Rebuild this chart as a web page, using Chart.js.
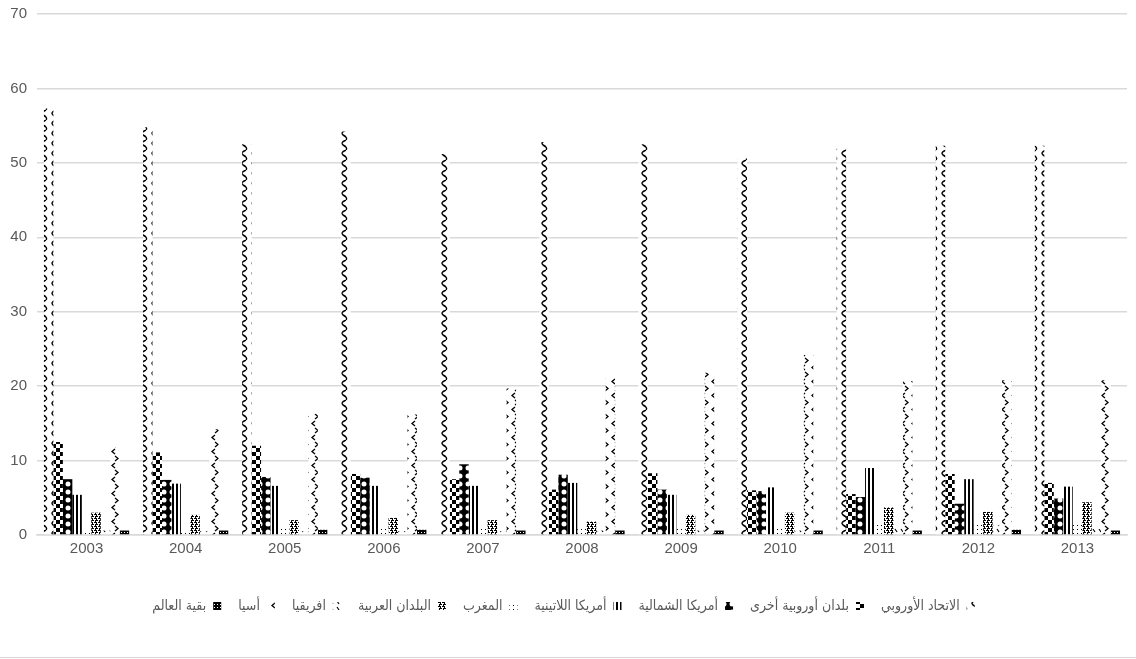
<!DOCTYPE html>
<html>
<head>
<meta charset="utf-8">
<script src="https://cdn.jsdelivr.net/npm/chart.js@4/dist/chart.umd.min.js"></script>
<style>
  html, body { margin: 0; padding: 0; background: #fff; }
  #wrap { width: 1136px; height: 659px; position: relative; }
</style>
</head>
<body>
<div id="wrap"><canvas id="regionsChart"></canvas></div>
<script>
// years on the x axis
const years = ['2003', '2004', '2005', '2006', '2007', '2008', '2009', '2010', '2011', '2012', '2013'];

// series names (legend, right to left)
const seriesNames = ['الاتحاد الأوروبي', 'بلدان أوروبية أخرى', 'أمريكا الشمالية', 'أمريكا اللاتينية',
    'المغرب', 'البلدان العربية', 'افريقيا', 'أسيا', 'بقية العالم'];

// values
const euValues        = [57.3, 54.8, 52.5, 54.2, 51.2, 52.8, 52.5, 50.6, 51.9, 52.3, 52.3];
const otherEurope     = [12.5, 11.1, 12.0, 8.2, 7.5, 6.1, 8.3, 6.0, 5.5, 8.2, 7.0];
const northAmerica    = [7.5, 7.4, 7.8, 7.7, 9.5, 8.1, 6.1, 5.9, 5.1, 4.2, 4.9];
const latinAmerica    = [5.4, 6.9, 6.6, 6.6, 6.6, 7.0, 5.4, 6.4, 9.0, 7.5, 6.5];
const morocco         = [0.5, 0.5, 1.0, 0.8, 0.9, 0.8, 0.9, 1.0, 1.5, 1.5, 1.5];
const arabCountries   = [3.0, 2.7, 2.0, 2.3, 2.0, 1.8, 2.7, 3.0, 3.7, 3.1, 4.4];
const africa          = [0.6, 0.5, 0.5, 0.5, 0.5, 0.6, 0.6, 0.6, 1.0, 1.3, 0.8];
const asia            = [11.8, 14.2, 16.3, 16.2, 19.7, 21.2, 21.8, 24.2, 20.7, 20.8, 20.8];
const restOfWorld     = [0.6, 0.6, 0.7, 0.7, 0.6, 0.6, 0.6, 0.6, 0.6, 0.7, 0.6];

const yTicks = [0, 10, 20, 30, 40, 50, 60, 70];

// black & white fill patterns like the original
function makePattern(w, h, draw) {
    const c = document.createElement('canvas');
    c.width = w; c.height = h;
    const g = c.getContext('2d');
    g.fillStyle = '#fff';
    g.fillRect(0, 0, w, h);
    g.fillStyle = '#000';
    g.strokeStyle = '#000';
    draw(g);
    return g.createPattern(c, 'repeat');
}

const patterns = [
    // wave
    makePattern(10, 10, g => {
        g.lineWidth = 1.4;
        g.beginPath();
        g.moveTo(6, 0);
        g.quadraticCurveTo(0, 2.5, 3, 5);
        g.quadraticCurveTo(8, 7.5, 6, 10);
        g.stroke();
    }),
    // large checkerboard
    makePattern(8, 8, g => {
        g.fillRect(0, 0, 4, 4);
        g.fillRect(4, 4, 4, 4);
    }),
    // spheres
    makePattern(8, 8, g => {
        g.fillRect(0, 0, 8, 8);
        g.fillStyle = '#fff';
        g.beginPath();
        g.arc(4, 4, 2.5, 0, Math.PI * 2);
        g.fill();
    }),
    // vertical stripes
    makePattern(4, 4, g => {
        g.fillRect(0, 0, 2, 4);
    }),
    // sparse dots
    makePattern(4, 4, g => {
        g.fillRect(1, 1, 1, 1);
    }),
    // lattice
    makePattern(4, 4, g => {
        g.fillRect(0, 0, 2, 1);
        g.fillRect(0, 2, 1, 2);
        g.fillRect(2, 2, 2, 1);
        g.fillRect(3, 0, 1, 2);
    }),
    // dashed diagonal
    makePattern(6, 6, g => {
        g.lineWidth = 1.2;
        g.beginPath();
        g.moveTo(1, 1);
        g.lineTo(3, 4);
        g.stroke();
    }),
    // dashed wave
    makePattern(10, 14, g => {
        g.lineWidth = 1.3;
        g.beginPath();
        g.moveTo(5, 1);
        g.lineTo(2, 3.5);
        g.lineTo(5, 6);
        g.moveTo(5, 8);
        g.lineTo(8, 10.5);
        g.lineTo(5, 13);
        g.stroke();
    }),
    // dense grid
    makePattern(3, 3, g => {
        g.fillRect(0, 0, 3, 3);
        g.fillStyle = '#fff';
        g.fillRect(1, 1, 1, 1);
    })
];

const seriesValues = [euValues, otherEurope, northAmerica, latinAmerica, morocco,
    arabCountries, africa, asia, restOfWorld];

const datasets = seriesNames.map((name, i) => ({
    label: name,
    data: seriesValues[i],
    backgroundColor: patterns[i],
    borderWidth: 0,
    categoryPercentage: 0.86,
    barPercentage: 1.0
}));

// thin frame line at the bottom of the chart
const bottomLine = {
    id: 'bottomLine',
    afterDraw(chart) {
        const ctx = chart.ctx;
        ctx.save();
        ctx.strokeStyle = '#d9d9d9';
        ctx.lineWidth = 1;
        ctx.beginPath();
        ctx.moveTo(0, 657.5);
        ctx.lineTo(chart.width, 657.5);
        ctx.stroke();
        ctx.restore();
    }
};

const config = {
    type: 'bar',
    data: { labels: years, datasets: datasets },
    options: {
        responsive: false,
        animation: false,
        layout: { padding: { top: 14, right: 9, bottom: 36, left: 0 } },
        plugins: {
            legend: {
                position: 'bottom',
                rtl: true,
                labels: {
                    boxWidth: 8,
                    boxHeight: 8,
                    padding: 17,
                    color: '#595959',
                    font: { family: "'DejaVu Sans Condensed', 'DejaVu Sans', sans-serif", size: 14 }
                }
            },
            tooltip: { enabled: false }
        },
        scales: {
            x: {
                grid: { display: false, drawTicks: false },
                border: { display: true, color: '#d9d9d9', width: 1.5 },
                ticks: {
                    color: '#595959',
                    padding: 5,
                    font: { family: "'Liberation Sans', Arial, sans-serif", size: 15 }
                },
                afterFit(axis) { axis.height = 47; axis.paddingLeft = 0; axis.paddingRight = 0; }
            },
            y: {
                min: 0,
                max: 70,
                afterBuildTicks(axis) { axis.ticks = yTicks.map(v => ({ value: v })); },
                grid: { color: '#d9d9d9', lineWidth: 1.5, drawTicks: false },
                border: { display: false },
                ticks: {
                    color: '#595959',
                    padding: 10,
                    font: { family: "'Liberation Sans', Arial, sans-serif", size: 15 }
                },
                afterFit(axis) { axis.width = 37; axis.paddingTop = 0; axis.paddingBottom = 0; }
            }
        }
    },
    plugins: [bottomLine]
};

const canvas = document.getElementById('regionsChart');
canvas.width = 1136;
canvas.height = 659;
const myChart = new Chart(canvas, config);
</script>
</body>
</html>
